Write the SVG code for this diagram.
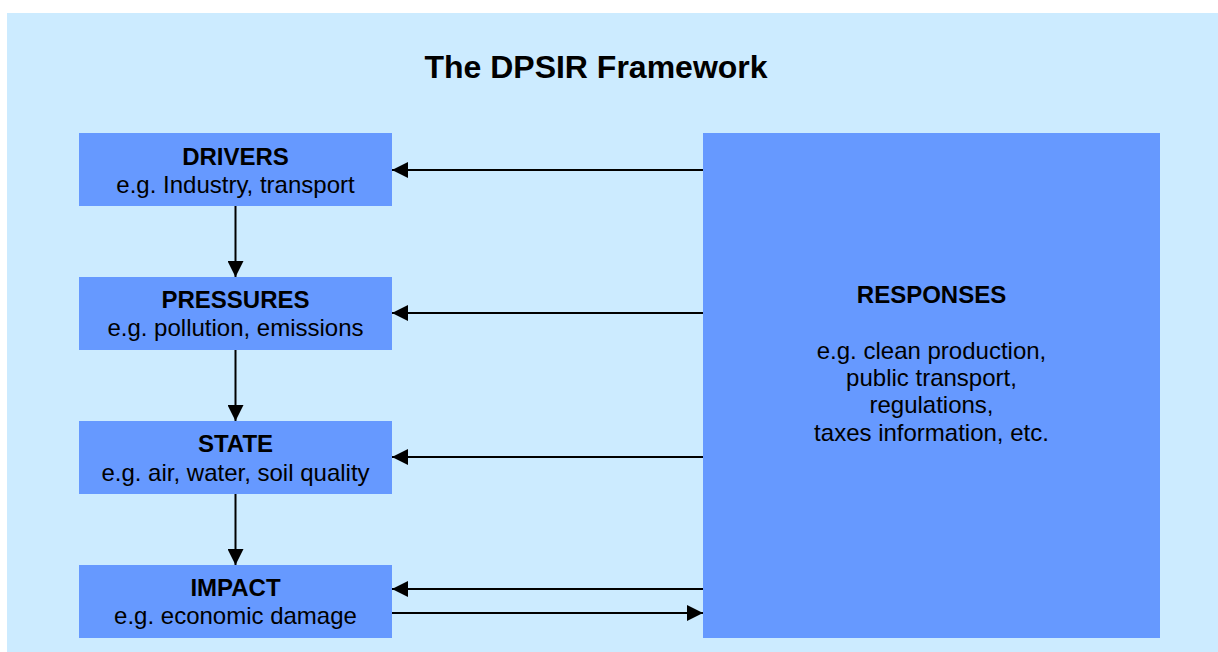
<svg xmlns="http://www.w3.org/2000/svg" width="1218" height="652" viewBox="0 0 1218 652">
  <style>
    .node { fill: #6699FF; }
    .title { font-family: "Liberation Sans", Arial, sans-serif; font-weight: bold; font-size: 32px; fill: #000; }
    .head { font-family: "Liberation Sans", Arial, sans-serif; font-weight: bold; font-size: 24px; fill: #000; text-anchor: middle; }
    .sub { font-family: "Liberation Sans", Arial, sans-serif; font-size: 24px; fill: #000; text-anchor: middle; }
    .conn { stroke: #000; stroke-width: 2; fill: none; marker-end: url(#arrow); }
  </style>
  <defs>
    <marker id="arrow" markerUnits="userSpaceOnUse" markerWidth="16" markerHeight="16" viewBox="0 0 16 16" refX="16" refY="8" orient="auto">
      <path d="M0,0 L16,8 L0,16 Z" fill="#000"/>
    </marker>
  </defs>
  <rect x="0" y="0" width="1218" height="652" fill="#FFFFFF"/>
  <rect x="7" y="13" width="1211" height="639" fill="#CCEBFF"/>
  <text class="title" x="596" y="78" text-anchor="middle">The DPSIR Framework</text>

  <g id="drivers">
    <rect class="node" x="79" y="133" width="313" height="73"/>
    <text class="head" x="235.5" y="165">DRIVERS</text>
    <text class="sub" x="235.5" y="193">e.g. Industry, transport</text>
  </g>
  <g id="pressures">
    <rect class="node" x="79" y="277" width="313" height="73"/>
    <text class="head" x="235.5" y="308">PRESSURES</text>
    <text class="sub" x="235.5" y="336">e.g. pollution, emissions</text>
  </g>
  <g id="state">
    <rect class="node" x="79" y="421" width="313" height="73"/>
    <text class="head" x="235.5" y="452">STATE</text>
    <text class="sub" x="235.5" y="481">e.g. air, water, soil quality</text>
  </g>
  <g id="impact">
    <rect class="node" x="79" y="565" width="313" height="73"/>
    <text class="head" x="235.5" y="596">IMPACT</text>
    <text class="sub" x="235.5" y="624">e.g. economic damage</text>
  </g>
  <g id="responses">
    <rect class="node" x="703" y="133" width="457" height="505"/>
    <text class="head" x="931.5" y="303">RESPONSES</text>
    <text class="sub" x="931.5" y="359">e.g. clean production,</text>
    <text class="sub" x="931.5" y="386">public transport,</text>
    <text class="sub" x="931.5" y="413">regulations,</text>
    <text class="sub" x="931.5" y="441">taxes information, etc.</text>
  </g>

  <g id="connectors">
    <line class="conn" x1="235.5" y1="206" x2="235.5" y2="277"/>
    <line class="conn" x1="235.5" y1="350" x2="235.5" y2="421"/>
    <line class="conn" x1="235.5" y1="494" x2="235.5" y2="565"/>
    <line class="conn" x1="703" y1="170" x2="392" y2="170"/>
    <line class="conn" x1="703" y1="313" x2="392" y2="313"/>
    <line class="conn" x1="703" y1="457" x2="392" y2="457"/>
    <line class="conn" x1="703" y1="589" x2="392" y2="589"/>
    <line class="conn" x1="392" y1="613" x2="703" y2="613"/>
  </g>
</svg>
